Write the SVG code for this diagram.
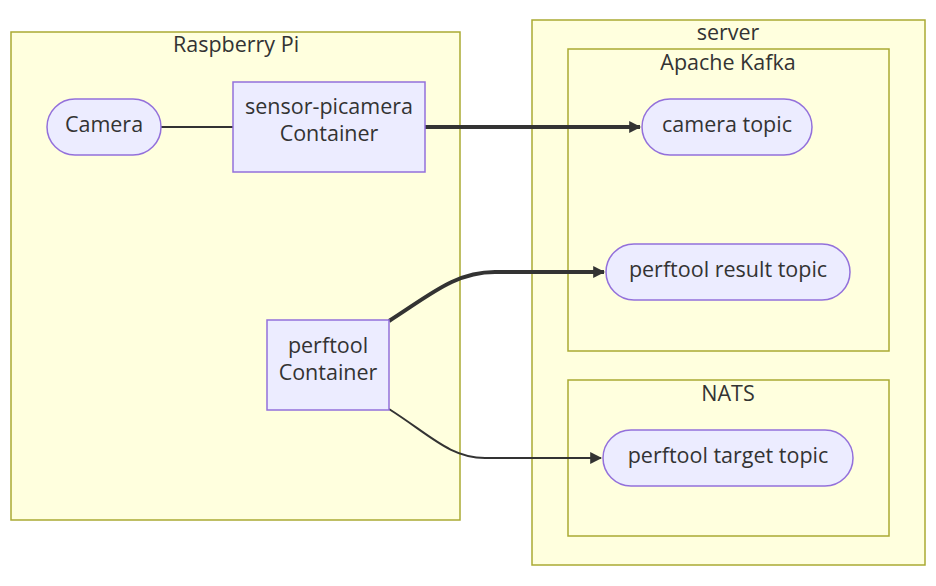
<svg xmlns="http://www.w3.org/2000/svg" width="936" height="586" viewBox="0 0 936 586">
<defs>
<style>
.cluster{fill:#ffffde;stroke:#aaaa33;stroke-width:1.5}
.node rect{fill:#ececff;stroke:#9370db;stroke-width:1.5}
text{font-family:"Open Sans","DejaVu Sans",sans-serif;font-size:21.5px;fill:#333;text-anchor:middle}
.edge{fill:none;stroke:#333;stroke-width:2}
.thick{stroke-width:4}
</style>
<marker id="arr" viewBox="0 0 10 10" refX="9" refY="5" markerUnits="userSpaceOnUse" markerWidth="12" markerHeight="12" orient="auto">
<path d="M0,0 L10,5 L0,10 z" fill="#333"/>
</marker>
</defs>
<rect width="936" height="586" fill="#fff"/>
<g id="cluster-rpi">
<rect class="cluster" x="11" y="32" width="449" height="488"/>
<text x="236" y="52">Raspberry Pi</text>
</g>
<g id="cluster-server">
<rect class="cluster" x="532" y="20" width="393" height="545"/>
<text x="728" y="40">server</text>
</g>
<g id="cluster-kafka">
<rect class="cluster" x="568" y="49" width="321" height="302"/>
<text x="728" y="70">Apache Kafka</text>
</g>
<g id="cluster-nats">
<rect class="cluster" x="568" y="380" width="321" height="156"/>
<text x="728" y="401">NATS</text>
</g>
<g id="connectors">
<path class="edge" d="M161,127 L233,127"/>
<path class="edge thick" d="M425,127 L640,127" marker-end="url(#arr)"/>
<path class="edge thick" d="M389,321 C430,295 455,272 495,272 L604,272" marker-end="url(#arr)"/>
<path class="edge" d="M389,409 C430,435 450,458 485,458 L601,458" marker-end="url(#arr)"/>
</g>
<g id="camera" class="node">
<rect x="47" y="99" width="114" height="56" rx="28"/>
<text x="104" y="132">Camera</text>
</g>
<g id="sensor-picamera" class="node">
<rect x="233" y="82" width="192" height="90"/>
<text x="329" y="114">sensor-picamera</text>
<text x="329" y="141">Container</text>
</g>
<g id="perftool" class="node">
<rect x="267" y="320" width="122" height="90"/>
<text x="328" y="353">perftool</text>
<text x="328" y="380">Container</text>
</g>
<g id="camera-topic" class="node">
<rect x="642" y="99" width="170" height="56" rx="28"/>
<text x="727" y="132">camera topic</text>
</g>
<g id="perftool-result-topic" class="node">
<rect x="606" y="244" width="244" height="56" rx="28"/>
<text x="728" y="277">perftool result topic</text>
</g>
<g id="perftool-target-topic" class="node">
<rect x="603" y="430" width="250" height="56" rx="28"/>
<text x="728" y="463">perftool target topic</text>
</g>
</svg>
